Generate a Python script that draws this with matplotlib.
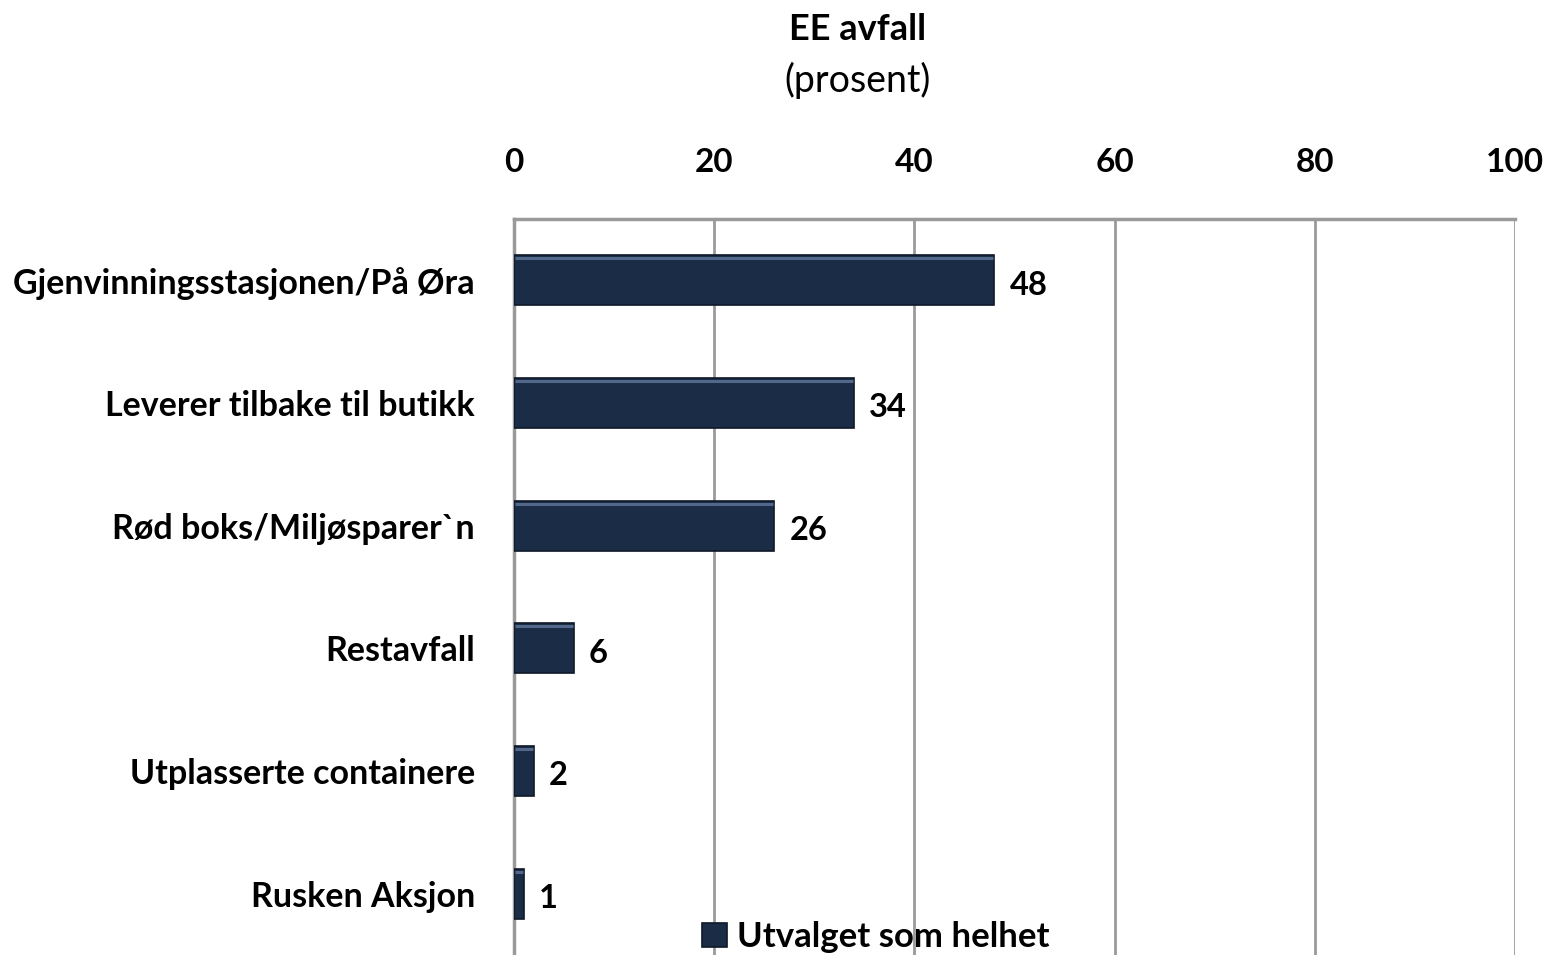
import matplotlib.pyplot as plt

# ----- Data ----- #
categories = [
    "Gjenvinningsstasjonen/På Øra",
    "Leverer tilbake til butikk",
    "Rød boks/Miljøsparer`n",
    "Restavfall",
    "Utplasserte containere",
    "Rusken Aksjon",
]
values = [48, 34, 26, 6, 2, 1]
ticks = [0, 20, 40, 60, 80, 100]
series_name = "Utvalget som helhet"

BAR_COLOR = "#1b2c47"
GRID_COLOR = "#9a9a9a"

plt.rcParams["font.family"] = ["Lato", "DejaVu Sans"]

fig = plt.figure(figsize=(15.48, 9.55), dpi=100)
ax = fig.add_axes([514 / 1548, 0.0, (1515 - 514) / 1548, 1 - 219 / 955])

y = list(range(len(categories)))
bars = ax.barh(y, values, height=0.41, color=BAR_COLOR,
               edgecolor="#0e1828", linewidth=1.2, zorder=3, label=series_name)

# lighter top edge to mimic the bevel
for b in bars:
    x0, y0 = b.get_x(), b.get_y()
    w, h = b.get_width(), b.get_height()
    ax.plot([x0 + 0.1, x0 + w - 0.1], [y0 + 0.06 * h, y0 + 0.06 * h],
            color="#51688a", lw=2.2, zorder=4, solid_capstyle="butt")

for yi, v in zip(y, values):
    ax.text(v + 1.5, yi + 0.04, str(v), va="center", ha="left",
            fontsize=23.5, fontweight="bold", color="black")

ax.set_xlim(0, 100)
ax.set_ylim(len(categories) - 0.5, -0.5)
ax.set_xticks(ticks)
ax.xaxis.tick_top()
ax.tick_params(axis="x", length=0, pad=30, labelsize=24)
for lbl in ax.get_xticklabels():
    lbl.set_fontweight("bold")
ax.set_yticks(y)
ax.set_yticklabels(categories, fontsize=24.5, fontweight="bold")
ax.tick_params(axis="y", length=0, pad=28)

ax.grid(axis="x", color=GRID_COLOR, lw=2, zorder=0)
for side in ["right", "bottom"]:
    ax.spines[side].set_visible(False)
for side in ["top", "left"]:
    ax.spines[side].set_color(GRID_COLOR)
    ax.spines[side].set_linewidth(2.5)

fig.text(858 / 1548, 1 - 30 / 955, "EE avfall", ha="center", va="center",
         fontsize=26, fontweight="bold")
fig.text(858 / 1548, 1 - 80 / 955, "(prosent)", ha="center", va="center",
         fontsize=27)

fig.legend(handles=[bars], labels=[series_name], loc="center",
           bbox_to_anchor=(876 / 1548, 1 - 937 / 955), frameon=False,
           prop={"weight": "bold", "size": 25},
           handlelength=0.7, handleheight=0.7, handletextpad=0.3)

fig.savefig("out.png", dpi=100)
